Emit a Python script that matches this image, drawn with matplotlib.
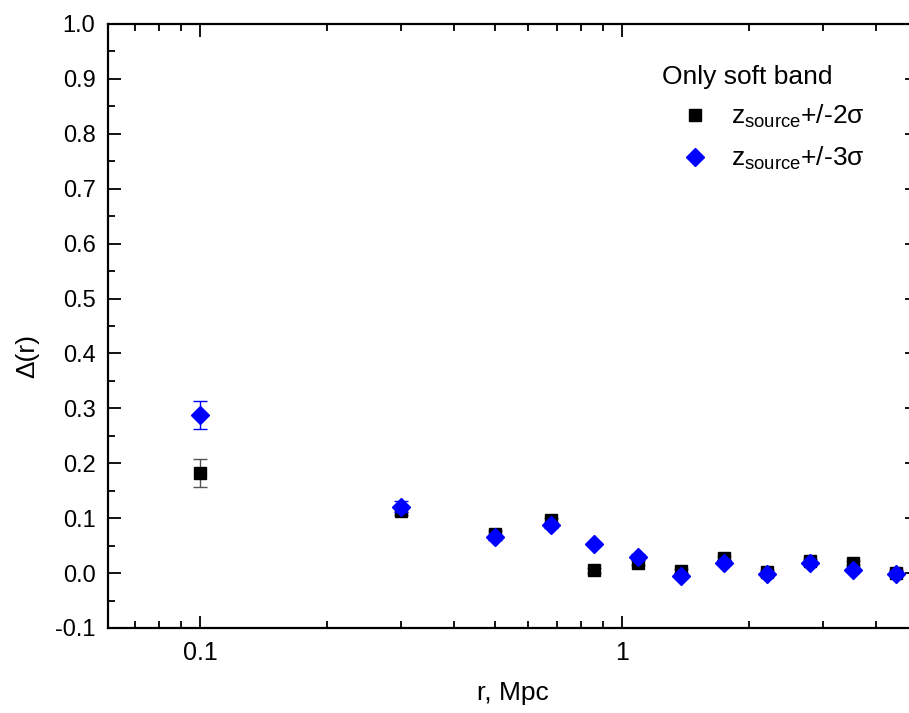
import matplotlib
matplotlib.use('Agg')
import matplotlib.pyplot as plt
from matplotlib.lines import Line2D
from matplotlib.ticker import MultipleLocator, FixedLocator, NullFormatter

plt.rcParams['font.family'] = ['Liberation Sans', 'DejaVu Sans']
plt.rcParams['mathtext.fontset'] = 'custom'
plt.rcParams['mathtext.rm'] = 'Liberation Sans'
plt.rcParams['mathtext.it'] = 'Liberation Sans'

# radial bins (Mpc)
r = [0.1, 0.3, 0.5, 0.68, 0.86, 1.09, 1.38, 1.74, 2.2, 2.79, 3.53, 4.47]

# z_source +/- 2 sigma
delta_2s = [0.182, 0.113, 0.072, 0.096, 0.005, 0.019, 0.004, 0.027, 0.002, 0.022, 0.018, 0.001]
err_2s = [0.026, 0.008, 0.005, 0.005, 0.004, 0.004, 0.004, 0.004, 0.004, 0.004, 0.004, 0.004]

# z_source +/- 3 sigma
delta_3s = [0.288, 0.121, 0.065, 0.087, 0.053, 0.030, -0.005, 0.019, -0.002, 0.018, 0.006, -0.001]
err_3s = [0.026, 0.010, 0.005, 0.005, 0.004, 0.004, 0.004, 0.004, 0.004, 0.004, 0.004, 0.004]

labels = [r'z$_{\rm source}$+/-2σ', r'z$_{\rm source}$+/-3σ']

fig = plt.figure(figsize=(9.09, 7.13), dpi=100)
# right spine sits just outside the picture, as in the original
ax = fig.add_axes([108 / 909, 1 - 628 / 713, 809 / 909, 604 / 713])

ax.errorbar(r, delta_2s, yerr=err_2s, fmt='s', color='black', ecolor='#555555',
            markersize=9, capsize=5, elinewidth=1, capthick=1, zorder=3)
ax.errorbar(r, delta_3s, yerr=err_3s, fmt='D', color='#0000ff', ecolor='#0000ff',
            markersize=9, capsize=5, elinewidth=1, capthick=1, zorder=4)

ax.set_xscale('log')
ax.set_xlim(0.0605, 5.0)
ax.set_ylim(-0.1, 1.0)

ax.set_yticks([i / 10 for i in range(-1, 11)])
ax.set_yticklabels(['%.1f' % (i / 10) for i in range(-1, 11)])
ax.yaxis.set_minor_locator(MultipleLocator(0.05))
ax.xaxis.set_major_locator(FixedLocator([0.1, 1]))
ax.set_xticklabels(['0.1', '1'])
ax.xaxis.set_minor_formatter(NullFormatter())

for s in ax.spines.values():
    s.set_linewidth(1.6)
ax.tick_params(which='both', direction='in', top=True, right=True, width=1.3)
ax.tick_params(which='major', length=9, labelsize=17, pad=9)
ax.tick_params(which='minor', length=5)
ax.tick_params(axis='x', labelsize=18)

ax.set_xlabel('r, Mpc', fontsize=19, labelpad=12)
ax.set_ylabel('Δ(r)', fontsize=19)
ax.yaxis.set_label_coords(-0.085, 0.45)

handles = [Line2D([], [], ls='none', marker='s', color='black', markersize=9),
           Line2D([], [], ls='none', marker='D', color='#0000ff', markersize=9)]
leg = ax.legend(handles, labels, loc='upper left', bbox_to_anchor=(0.672, 0.95),
                frameon=False, title='Only soft band', fontsize=19, title_fontsize=19,
                handlelength=2.5, handletextpad=0.1, labelspacing=0.55, borderaxespad=0)
leg._legend_box.align = 'left'

fig.savefig('out.png', dpi=100)
